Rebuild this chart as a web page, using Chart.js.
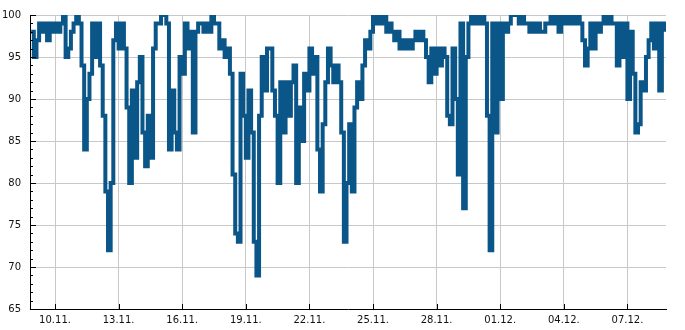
<!DOCTYPE html>
<html lang="en">
<head>
    <meta charset="UTF-8">
    <title>Humidity</title>
    <script src="https://cdn.jsdelivr.net/npm/chart.js"></script>
    <style>
        body { margin: 0; background: #fff; }
        .chart-container { position: relative; width: 685px; height: 330px; }
    </style>
</head>
<body>
    <div class="chart-container">
        <canvas id="humidityChart"></canvas>
    </div>

    <script>
        // Readings every 3 hours, day 0 = 10.11. 00:00
        const START_DAY = -1.125;
        const STEP_DAYS = 0.125;

        const humidity = [
            98, 95, 97, 99, 98, 99, 97, 99, 98, 99,
            98, 99, 100, 95, 96, 98, 99, 100, 99, 94,
            84, 90, 93, 99, 95, 99, 94, 88, 79, 72,
            80, 97, 99, 96, 99, 96, 89, 80, 91, 83,
            92, 95, 86, 82, 88, 83, 96, 99, 99, 100,
            100, 99, 84, 91, 86, 84, 95, 93, 99, 96,
            98, 86, 98, 99, 99, 98, 99, 98, 100, 99,
            99, 96, 97, 95, 96, 93, 81, 74, 73, 93,
            88, 83, 91, 86, 73, 69, 88, 95, 91, 96,
            96, 91, 88, 80, 92, 86, 92, 88, 92, 94,
            80, 89, 85, 93, 91, 96, 93, 95, 84, 79,
            87, 92, 96, 94, 92, 94, 92, 86, 73, 80,
            87, 79, 89, 92, 90, 94, 97, 96, 98, 100,
            99, 100, 99, 100, 98, 99, 98, 97, 98, 96,
            97, 96, 97, 96, 97, 98, 97, 98, 97, 95,
            92, 96, 93, 96, 94, 96, 95, 88, 87, 96,
            90, 81, 99, 77, 95, 99, 100, 99, 100, 99,
            100, 99, 88, 72, 99, 86, 99, 90, 99, 98,
            99, 100, 100, 100, 99, 100, 99, 99, 98, 99,
            98, 99, 98, 98, 99, 99, 100, 99, 100, 98,
            100, 99, 100, 99, 100, 99, 100, 99, 97, 94,
            96, 99, 96, 99, 98, 99, 100, 99, 100, 99,
            99, 94, 99, 95, 99, 90, 98, 93, 86, 87,
            92, 91, 95, 97, 99, 96, 99, 91, 99, 98
        ];

        const X_MIN = -1.18;
        const X_MAX = 28.82;
        const tickDays = [0, 3, 6, 9, 12, 15, 18, 21, 24, 27];
        const tickLabels = ['10.11.', '13.11.', '16.11.', '19.11.', '22.11.', '25.11.', '28.11.', '01.12.', '04.12.', '07.12.'];
        const Y_MIN = 65;
        const Y_MAX = 100;

        const LINE_COLOR = '#0b5688';
        const GRID_COLOR = '#c8c8c8';
        const TEXT_COLOR = '#111';

        // Inward tick marks, minor ticks every 1 on the y axis
        const tickMarks = {
            id: 'tickMarks',
            afterDraw(chart) {
                const { ctx, chartArea: area, scales: { x, y } } = chart;
                ctx.save();
                ctx.strokeStyle = '#000';
                ctx.lineWidth = 1;
                ctx.beginPath();
                for (let v = Y_MIN; v <= Y_MAX; v++) {
                    const py = Math.round(y.getPixelForValue(v)) + 0.5;
                    const len = v % 5 === 0 ? 6 : 3;
                    ctx.moveTo(area.left, py);
                    ctx.lineTo(area.left + len, py);
                }
                tickDays.forEach(d => {
                    const px = Math.round(x.getPixelForValue(d)) + 0.5;
                    ctx.moveTo(px, area.bottom);
                    ctx.lineTo(px, area.bottom - 5);
                });
                ctx.stroke();
                ctx.restore();
            }
        };

        const ctx = document.getElementById('humidityChart').getContext('2d');
        new Chart(ctx, {
            type: 'line',
            data: {
                datasets: [{
                    data: humidity.map((v, i) => ({ x: START_DAY + i * STEP_DAYS, y: v })),
                    borderColor: LINE_COLOR,
                    borderWidth: 4,
                    borderCapStyle: 'butt',
                    borderJoinStyle: 'miter',
                    stepped: true,
                    pointRadius: 0,
                    fill: false
                }]
            },
            options: {
                responsive: true,
                maintainAspectRatio: false,
                animation: false,
                layout: { padding: { top: 10, right: 19, left: 0, bottom: 0 } },
                plugins: {
                    legend: { display: false },
                    tooltip: { enabled: false }
                },
                scales: {
                    x: {
                        type: 'linear',
                        min: X_MIN,
                        max: X_MAX,
                        afterBuildTicks: scale => {
                            scale.ticks = tickDays.map(d => ({ value: d }));
                        },
                        afterFit: scale => { scale.height = 21; },
                        grid: { color: GRID_COLOR, drawTicks: false },
                        border: { color: '#000', width: 1 },
                        ticks: {
                            padding: 5,
                            color: TEXT_COLOR,
                            font: { family: 'DejaVu Sans', size: 10 },
                            maxRotation: 0,
                            callback: (value, index) => tickLabels[index]
                        }
                    },
                    y: {
                        min: Y_MIN,
                        max: Y_MAX,
                        afterFit: scale => { scale.width = 30; },
                        grid: { color: GRID_COLOR, drawTicks: false },
                        border: { color: '#000', width: 1 },
                        ticks: {
                            stepSize: 5,
                            padding: 9,
                            color: TEXT_COLOR,
                            font: { family: 'DejaVu Sans', size: 10 }
                        }
                    }
                }
            },
            plugins: [tickMarks]
        });
    </script>
</body>
</html>
